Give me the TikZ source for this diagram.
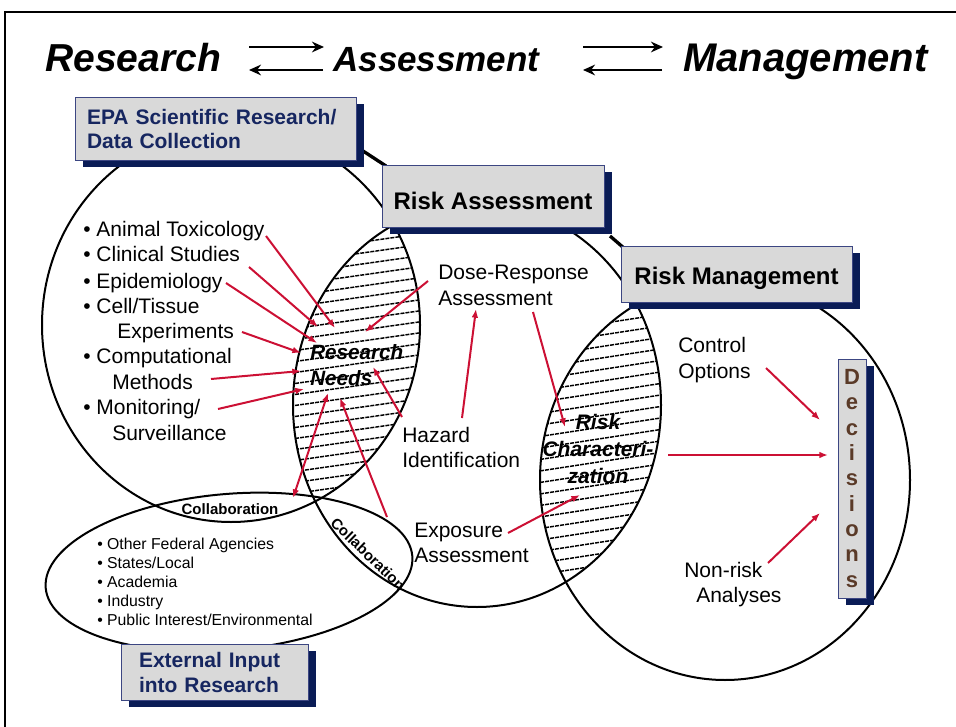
\documentclass[tikz,border=0pt]{standalone}
\usepackage{fontspec}
\setmainfont{Liberation Sans}
\usetikzlibrary{arrows.meta,shadows}

\definecolor{boxfill}{RGB}{217,217,217}
\definecolor{boxedge}{RGB}{60,70,130}
\definecolor{navyshadow}{RGB}{10,28,86}
\definecolor{navytext}{RGB}{22,38,96}
\definecolor{arrowred}{RGB}{204,16,52}
\definecolor{decbrown}{RGB}{90,58,40}

\tikzset{
  circ/.style={draw=black, line width=1.5pt},
  hatchline/.style={line width=1.1pt, dash pattern=on 3pt off 0.8pt},
  redarrow/.style={draw=arrowred, line width=1.5pt, -{Latex[length=6.5pt,width=5pt]}},
  twoway/.style={draw=arrowred, line width=1.5pt, {Latex[length=6.5pt,width=5pt]}-{Latex[length=6.5pt,width=5pt]}},
  titlearrow/.style={draw=black, line width=2.2pt, -{Stealth[length=9pt,width=8pt]}},
  linker/.style={draw=black, line width=2.5pt},
  panel/.style={draw=boxedge, line width=0.6pt, fill=boxfill, inner sep=0pt,
    drop shadow={shadow xshift=6pt, shadow yshift=-5.5pt, fill=navyshadow, opacity=1}},
  lbl/.style={inner sep=0pt, anchor=base west, font=\fontsize{15.75}{18}\selectfont},
  small/.style={inner sep=0pt, anchor=base west, font=\fontsize{11.85}{14}\selectfont},
  ttl/.style={inner sep=0pt, anchor=base west},
  collab/.style={inner sep=0pt, font=\fontsize{11.25}{13}\selectfont\bfseries},
  needs/.style={inner sep=0pt, font=\bfseries\itshape, align=center},
}

\begin{document}
\begin{tikzpicture}[x=0.75pt,y=-0.75pt]
\useasboundingbox (0,0) rectangle (956,727);

% outer frame (top and left edges)
\draw[line width=1.2pt] (5,727) -- (5,12) -- (956,12);

% heading
\node[ttl, font=\fontsize{29.25}{30}\selectfont\bfseries\itshape] (tres) at (45,72) {Research};
\node[ttl, font=\fontsize{26.25}{28}\selectfont\bfseries\itshape] (tass) at (333,72) {Assessment};
\node[ttl, font=\fontsize{30}{32}\selectfont\bfseries\itshape] (tman) at (683,72) {Management};
\coordinate (a1l) at (249,47); \coordinate (a1r) at (324,47);
\coordinate (a2l) at (249,70); \coordinate (a2r) at (323,70);
\coordinate (a3l) at (583,47); \coordinate (a3r) at (663,47);
\coordinate (a4l) at (583,70); \coordinate (a4r) at (662,70);
\draw[titlearrow] (a1l) -- (a1r);
\draw[titlearrow] (a2r) -- (a2l);
\draw[titlearrow] (a3l) -- (a3r);
\draw[titlearrow] (a4r) -- (a4l);

% hatched overlap: research / assessment
\begin{scope}
  \clip (231,325) ellipse [x radius=189, y radius=197];
  \clip (477,405) ellipse [x radius=184, y radius=202];
  \foreach \k in {0,...,40}
    \draw[hatchline] (270,200+11*\k) -- (440,200+11*\k-24);
\end{scope}
% hatched overlap: assessment / management
\begin{scope}
  \clip (477,405) ellipse [x radius=184, y radius=202];
  \clip (725,480) ellipse [x radius=185, y radius=200];
  \foreach \k in {0,...,32}
    \draw[hatchline] (520,290+11.5*\k) -- (690,290+11.5*\k-26);
\end{scope}

% the four domains
\draw[circ] (231,325) ellipse [x radius=189, y radius=197];
\draw[circ] (477,405) ellipse [x radius=184, y radius=202];
\draw[circ] (725,480) ellipse [x radius=185, y radius=200];
\draw[circ, rotate around={5:(229,572)}] (229,572) ellipse [x radius=184, y radius=78];

% research inputs
\node[lbl] (l1) at (83,237) {• Animal Toxicology};
\node[lbl] (l2) at (83,262) {• Clinical Studies};
\node[lbl] (l3) at (83,288) {• Epidemiology};
\node[lbl] (l4) at (83,313) {• Cell/Tissue};
\node[lbl] (l5) at (117,338) {Experiments};
\node[lbl] (l6) at (83,363) {• Computational};
\node[lbl] (l7) at (112,389) {Methods};
\node[lbl] (l8) at (83,414) {• Monitoring/};
\node[lbl] (l9) at (112,440) {Surveillance};

% external partners
\node[small] (e1) at (97,549) {• Other Federal Agencies};
\node[small] (e2) at (97,568) {• States/Local};
\node[small] (e3) at (97,587) {• Academia};
\node[small] (e4) at (97,606) {• Industry};
\node[small] (e5) at (97,625) {• Public Interest/Environmental};

% collaboration labels
\node[collab] (c1) at (230,509) {Collaboration};
\node[collab, rotate=-44] (c2) at (368,554) {Collaboration};

% assessment steps
\node[lbl] (dr1) at (438,280) {Dose-Response};
\node[lbl] (dr2) at (438,305) {Assessment};
\node[lbl] (hz1) at (402,442) {Hazard};
\node[lbl] (hz2) at (402,467) {Identification};
\node[lbl] (ex1) at (414,537) {Exposure};
\node[lbl] (ex2) at (414,562) {Assessment};
\node[lbl] (co1) at (678,352) {Control};
\node[lbl] (co2) at (678,378) {Options};
\node[lbl] (nr1) at (684,577) {Non-risk};
\node[lbl] (nr2) at (696,602) {Analyses};

% overlap titles (anchored on the baseline of the last line)
\node[needs, font=\fontsize{15.5}{19.5}\selectfont\bfseries\itshape, align=left, anchor=base west] (rn) at (310,385) {Research\\Needs};
\node[needs, font=\fontsize{15.75}{20}\selectfont\bfseries\itshape, anchor=base] (rc) at (598,483) {Risk\\Characteri-\\zation};

% arrow end points
\coordinate (s1) at (266,236);  \coordinate (t1) at (335,328);
\coordinate (s2) at (249,267);  \coordinate (t2) at (318,327);
\coordinate (s3) at (226,283);  \coordinate (t3) at (317,343);
\coordinate (s4) at (242,332);  \coordinate (t4) at (301,353);
\coordinate (s5) at (211,379);  \coordinate (t5) at (301,371);
\coordinate (s6) at (218,409);  \coordinate (t6) at (304,389);
\coordinate (s7) at (428,281);  \coordinate (t7) at (365,332);
\coordinate (s8) at (402,417);  \coordinate (t8) at (373,367);
\coordinate (s9) at (462,418);  \coordinate (t9) at (476,309);
\coordinate (s10) at (387,517); \coordinate (t10) at (340,398);
\coordinate (s11) at (328,393); \coordinate (t11) at (293,498);
\coordinate (s12) at (533,312); \coordinate (t12) at (565,427);
\coordinate (s13) at (508,533); \coordinate (t13) at (580,495);
\coordinate (s14) at (668,455); \coordinate (t14) at (828,455);
\coordinate (s15) at (766,368); \coordinate (t15) at (820,420);
\coordinate (s16) at (768,563); \coordinate (t16) at (820,513);

\foreach \i in {1,...,10,12,13,14,15,16}
  \draw[redarrow] (s\i) -- (t\i);
\draw[twoway] (s11) -- (t11);

% links between the headline boxes
\coordinate (k1) at (360,149); \coordinate (k2) at (386,166);
\coordinate (k3) at (610,236); \coordinate (k4) at (625,249);
\draw[linker] (k1) -- (k2);
\draw[linker] (k3) -- (k4);

% headline boxes
\node[panel, minimum width=210.75pt, minimum height=47.25pt, text width=192.75pt,
      inner xsep=9pt, align=left, text=navytext,
      font=\fontsize{15.75}{18}\selectfont\bfseries] (epa) at (215.5,128.5)
      {EPA Scientific Research/\\Data Collection};
\node[panel, minimum width=166.5pt, minimum height=46.5pt, text height=21pt, text depth=0pt,
      font=\fontsize{18}{20}\selectfont\bfseries] (ra) at (493,196) {Risk Assessment};
\node[panel, minimum width=173.25pt, minimum height=42pt, text height=16.5pt, text depth=0pt,
      font=\fontsize{18}{20}\selectfont\bfseries] (rm) at (736.5,274) {Risk Management};
\node[panel, minimum width=140.25pt, minimum height=42pt, text width=113.25pt,
      inner xsep=13.5pt, align=left, text=navytext,
      font=\fontsize{15.75}{18.75}\selectfont\bfseries] (ext) at (214.5,672)
      {External Input\\into Research};
\node[panel, minimum width=21pt, minimum height=179.25pt, align=center, text=decbrown,
      font=\fontsize{16.5}{19}\selectfont\bfseries] (dec) at (852,478.5)
      {D\\e\\c\\i\\s\\i\\o\\n\\s};
\end{tikzpicture}
\end{document}
